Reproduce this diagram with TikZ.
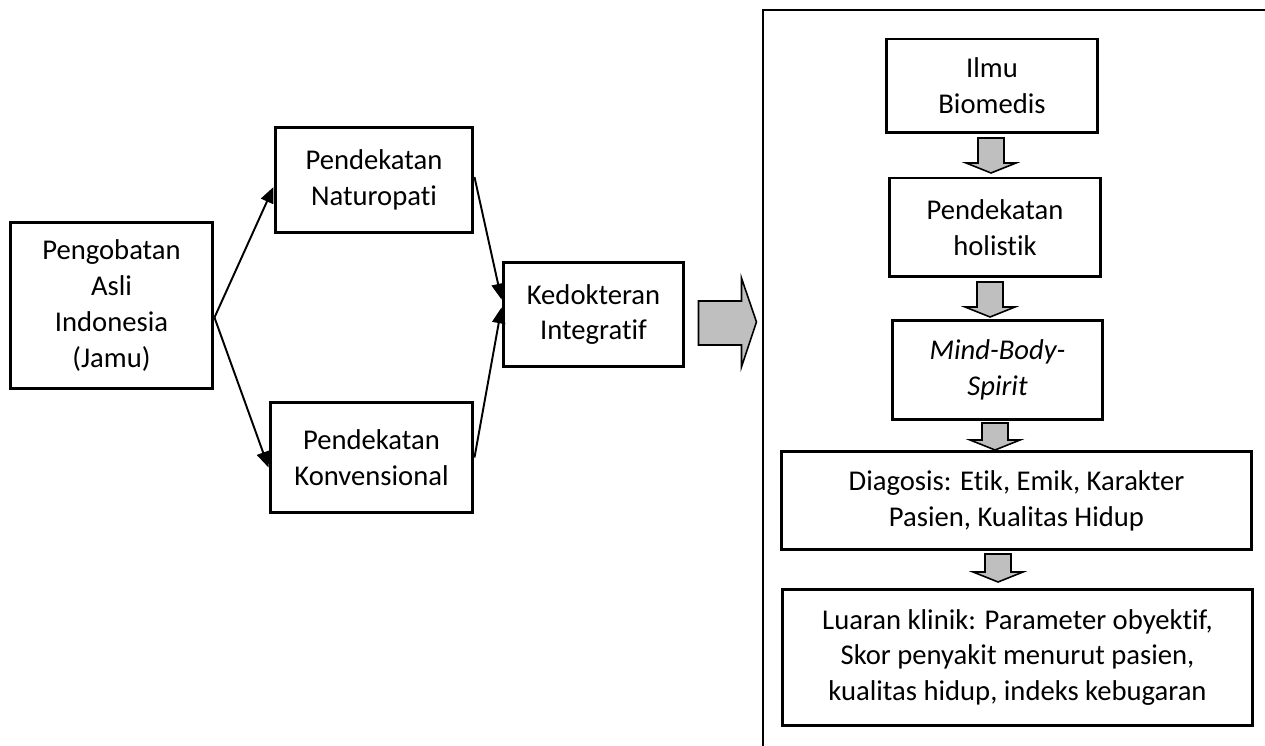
\documentclass[tikz,border=0pt]{standalone}
\usepackage{fontspec}
\setmainfont{Carlito}[Ligatures={NoCommon}]
\usetikzlibrary{arrows.meta,calc}

\tikzset{
  box/.style={draw, line width=1.7pt, align=center, inner sep=2pt,
    font=\fontsize{16.3}{20.4}\selectfont},
  link/.style={line width=1.1pt, -{Triangle[length=9pt,width=7.5pt]}},
  blockarrow/.style={draw, line width=0.9pt, fill=black!25, line join=miter},
}
% grey block arrow pointing down: centre, length
\newcommand{\blockdown}[2]{%
  \draw[blockarrow] ($(#1)+(-13,-#2/2)$) -- ++(26,0) -- ++(0,#2-10)
    -- ++(12,0) -- ++(-25,10) -- ++(-25,-10) -- ++(12,0) -- cycle;}

\begin{document}
\begin{tikzpicture}[x=0.02cm, y=-0.02cm]
\useasboundingbox (0,0) rectangle (1265,746);

% left part
\node[box, minimum width=4.06cm, minimum height=3.34cm] (peng) at (111.5,305.5) {Pengobatan\\Asli\\Indonesia\\(Jamu)};
\node[box, minimum width=3.96cm, minimum height=2.12cm] (natur) at (374,180) {Pendekatan\\Naturopati};
\node[box, minimum width=4.06cm, minimum height=2.22cm] (konv) at (371.5,457.5) {Pendekatan\\Konvensional};
\node[box, minimum width=3.62cm, minimum height=2.1cm] (kedok) at (593.5,314.5) {Kedokteran\\Integratif};

\draw[link] ($(peng.east)+(0,12)$) -- ($(natur.west)+(0,7)$);
\draw[link] ($(peng.east)+(0,12)$) -- ($(konv.west)+(0,10)$);
\draw[link] ($(natur.east)+(0,-3)$) -- ($(kedok.west)+(0,-15)$);
\draw[link] (konv.east) -- ($(kedok.west)+(0,-7)$);

% big arrow
\coordinate (bigarr) at ($(kedok.east)+(13,-13.5)$);
\draw[blockarrow] (bigarr) -- ++(43,0) -- ++(0,-23) -- ++(15,44) -- ++(-15,45)
  -- ++(0,-22) -- ++(-43,0) -- cycle;

% right frame
\draw[line width=1.2pt] (763,746) |- (1265,10);

\node[box, minimum width=4.24cm, minimum height=1.88cm] (bio) at (992,86) {Ilmu\\Biomedis};
\node[box, minimum width=4.24cm, minimum height=1.98cm] (holis) at (995,227.5) {Pendekatan\\holistik};
\node[box, minimum width=4.22cm, minimum height=2.0cm] (mbs) at (997.5,370) {\itshape Mind-Body-\\\itshape Spirit};
\node[box, minimum width=9.42cm, minimum height=1.98cm] (diag) at (1016.5,500.5) {Diagosis: Etik, Emik, Karakter\\Pasien, Kualitas Hidup};
\node[box, minimum width=9.42cm, minimum height=2.74cm] (luaran) at (1017.5,657.5) {Luaran klinik: Parameter obyektif,\\Skor penyakit menurut pasien,\\kualitas hidup, indeks kebugaran};

\blockdown{991,155.5}{35}
\blockdown{990,299.5}{35}
\blockdown{995,436.5}{27}
\blockdown{998,568}{28}
\end{tikzpicture}
\end{document}
